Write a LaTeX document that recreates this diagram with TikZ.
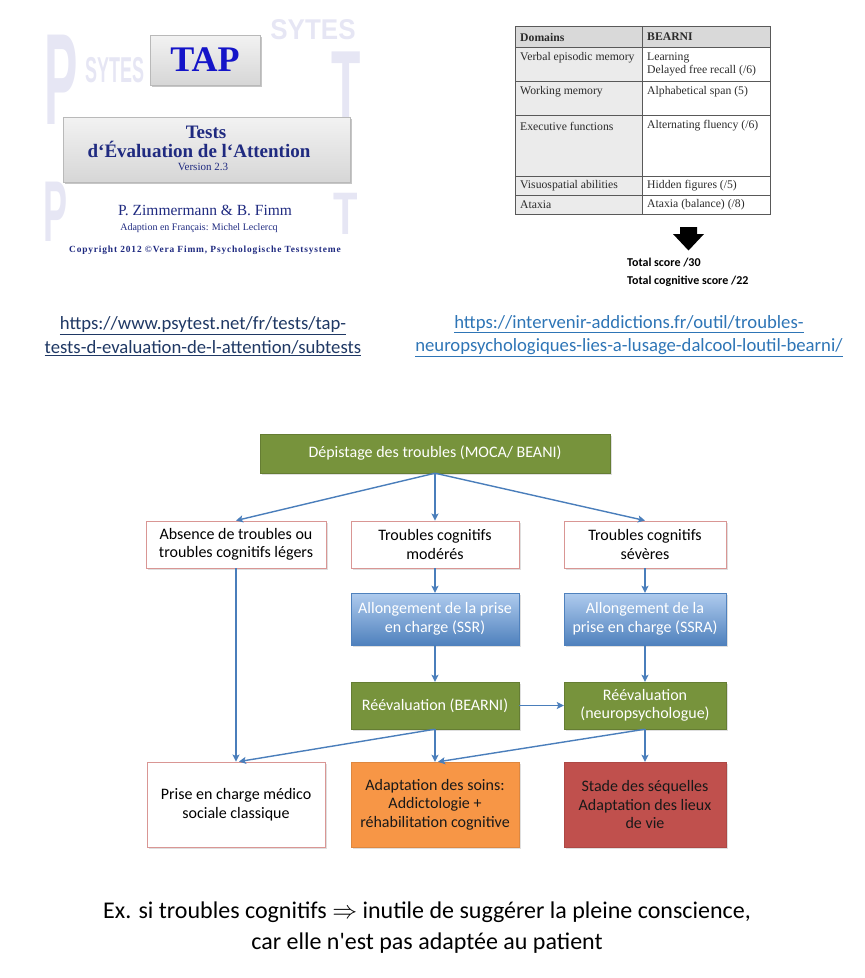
\documentclass[tikz,border=0pt]{standalone}
\usepackage{fontspec}
\setmainfont{Carlito}
\newfontfamily\serifA{Liberation Serif}
\newfontfamily\serifWide[LetterSpace=9]{Liberation Serif}
\newfontfamily\sansB{Liberation Sans}
\usetikzlibrary{arrows.meta,shadows}

\definecolor{flowgreen}{HTML}{77933C}
\definecolor{flowblue}{HTML}{4F81BD}
\definecolor{flowbluelight}{HTML}{AFCBEE}
\definecolor{arrowblue}{HTML}{4A7EBB}
\definecolor{pinkborder}{HTML}{D99694}
\definecolor{orangefill}{HTML}{F79646}
\definecolor{redfill}{HTML}{C0504D}
\definecolor{tapblue}{HTML}{1414C8}
\definecolor{tapnavy}{HTML}{1F2A80}
\definecolor{wmcol}{HTML}{E6E6F4}
\definecolor{urlnavy}{HTML}{1F3864}
\definecolor{urlblue}{HTML}{2E75B6}
\definecolor{tblhead}{HTML}{D9D9D9}
\definecolor{tblleft}{HTML}{EBEBEB}
\definecolor{tbltext}{HTML}{2B2B2B}

\begin{document}
\begin{tikzpicture}[x=1pt,y=-1pt,
  flowfont/.style={font=\fontsize{16}{18.5}\selectfont},
  fbox/.style={rectangle, align=center, inner sep=2pt, flowfont,
    drop shadow={opacity=0.25,shadow xshift=1.5pt,shadow yshift=-1.5pt}},
  greenbox/.style={fbox, fill=flowgreen, draw=flowgreen!85!black, text=white},
  bluebox/.style={fbox, top color=flowbluelight, bottom color=flowblue, draw=flowblue, text=white},
  pinkbox/.style={fbox, fill=white, draw=pinkborder, line width=0.9pt, text=black},
  orangebox/.style={fbox, fill=orangefill, draw=orangefill!90!black, text=black!90},
  redbox/.style={fbox, fill=redfill, draw=redfill!90!black, text=black!90},
  flowarrow/.style={draw=arrowblue, line width=1.4pt, -{Stealth[length=7pt,width=7pt,inset=1.5pt]}},
  wm/.style={text=wmcol, font=\sansB\bfseries, inner sep=0pt},
  tbl/.style={anchor=west, inner sep=0pt, text=tbltext, font=\serifA\fontsize{11.7}{13}\selectfont},
  tblb/.style={tbl, font=\serifA\bfseries\fontsize{11.7}{13}\selectfont},
  tapline/.style={text=tapnavy, inner sep=0pt},
  graybox/.style={rectangle, top color=gray!10, bottom color=gray!32, draw=gray!55,
    drop shadow={opacity=0.45,shadow xshift=2pt,shadow yshift=-2pt}},
  urlnode/.style={align=center, inner sep=0pt, font=\fontsize{18.7}{23.5}\selectfont}
]
\useasboundingbox (0,0) rectangle (865,978);

% ---------------- TAP cover (watermark first) ----------------
\node[wm] (wmP1) at (61,80) {\scalebox{1}[2.6]{\fontsize{50}{50}\selectfont P}};
\node[wm] (wmS1) at (115,70) {\scalebox{1}[2.0]{\fontsize{18}{18}\selectfont SYTES}};
\node[wm] (wmS0) at (313,30) {\scalebox{1}[1.1]{\fontsize{26}{26}\selectfont SYTES}};
\node[wm] (wmT1) at (346,88) {\scalebox{1}[2.2]{\fontsize{48}{48}\selectfont T}};
\node[wm] (wmP2) at (56,212) {\scalebox{1}[2.4]{\fontsize{36}{36}\selectfont P}};
\node[wm] (wmT2) at (346,214) {\scalebox{1}[1.5]{\fontsize{40}{40}\selectfont T}};

\node[graybox, minimum width=110, minimum height=50, text=tapblue,
  font=\serifA\bfseries\fontsize{36}{36}\selectfont] (tap) at (205,60) {TAP};
\node[graybox, minimum width=287, minimum height=65] (tapbox2) at (206.5,149.5) {};
\node[tapline, font=\serifA\bfseries\fontsize{19}{19}\selectfont] (taptests) at (206,132) {Tests};
\node[tapline, font=\serifA\bfseries\fontsize{19}{19}\selectfont] (tapeval) at (199,149) {d‘Évaluation de l‘Attention};
\node[tapline, font=\serifA\fontsize{11}{11}\selectfont] (tapver) at (203,167) {Version 2.3};
\node[tapline, font=\serifA\fontsize{15.5}{15.5}\selectfont] (tapauth) at (205,210) {P. Zimmermann \& B. Fimm};
\node[tapline, font=\serifA\fontsize{10}{10}\selectfont] (tapadapt) at (199,228) {Adaption en Français: Michel Leclercq};
\node[tapline, font=\serifWide\bfseries\fontsize{9.4}{9.4}\selectfont] (tapcopy) at (205,250) {Copyright 2012 ©Vera Fimm, Psychologische Testsysteme};

% ---------------- BEARNI table ----------------
\fill[tblleft] (515,47) rectangle (642,214);
\fill[tblhead] (515,26) rectangle (770,47);
\draw[gray!70!black, line width=0.7pt] (515,26) rectangle (770,214);
\draw[gray!70!black, line width=0.7pt] (642,26) -- (642,214);
\foreach \yy in {47,81,115,176,195} {\draw[gray!70!black, line width=0.7pt] (515,\yy) -- (770,\yy);}
\node[tblb] (tdom) at (520,37) {Domains};
\node[tblb] (tbea) at (647,37) {BEARNI};
\node[tbl] (t1a) at (520,58) {Verbal episodic memory};
\node[tbl] (t1b) at (647,58) {Learning};
\node[tbl] (t1c) at (647,71) {Delayed free recall (/6)};
\node[tbl] (t2a) at (520,92) {Working memory};
\node[tbl] (t2b) at (647,92) {Alphabetical span (5)};
\node[tbl] (t3a) at (520,126) {Executive functions};
\node[tbl] (t3b) at (647,126) {Alternating fluency (/6)};
\node[tbl] (t4a) at (520,186) {Visuospatial abilities};
\node[tbl] (t4b) at (647,186) {Hidden figures (/5)};
\node[tbl] (t5a) at (520,205) {Ataxia};
\node[tbl] (t5b) at (647,205) {Ataxia (balance) (/8)};
\fill[black] (680,227) -- (697,227) -- (697,234) -- (704,234) -- (688.5,250.5) -- (673,234) -- (680,234) -- cycle;
\node[anchor=west, inner sep=0pt, font=\bfseries\fontsize{12}{12}\selectfont] (tscore) at (627,263) {Total score /30};
\node[anchor=west, inner sep=0pt, font=\bfseries\fontsize{12}{12}\selectfont] (tcog) at (627,281) {Total cognitive score /22};

% ---------------- URLs ----------------
\node[urlnode, text=urlnavy] (url1) at (203,336.5) {\underline{https://www.psytest.net/fr/tests/tap-}\\\underline{tests-d-evaluation-de-l-attention/subtests}};
\node[urlnode, text=urlblue] (url2) at (629,336) {\underline{https://intervenir-addictions.fr/outil/troubles-}\\\underline{neuropsychologiques-lies-a-lusage-dalcool-loutil-bearni/}};

% ---------------- Flowchart ----------------
\node[greenbox, minimum width=350, minimum height=39] (top) at (435,453.5) {Dépistage des troubles (MOCA/ BEANI)};
\node[pinkbox, minimum width=180, minimum height=47] (r2l) at (236,544.5) {Absence de troubles ou\\troubles cognitifs légers};
\node[pinkbox, minimum width=168, minimum height=47] (r2m) at (435,544.5) {Troubles cognitifs\\modérés};
\node[pinkbox, minimum width=162, minimum height=47] (r2r) at (645,544.5) {Troubles cognitifs\\sévères};
\node[bluebox, minimum width=168, minimum height=52] (blm) at (435,619) {Allongement de la prise\\en charge (SSR)};
\node[bluebox, minimum width=162, minimum height=52] (blr) at (645,619) {Allongement de la\\prise en charge (SSRA)};
\node[greenbox, minimum width=168, minimum height=47] (gm) at (435,705.5) {Réévaluation (BEARNI)};
\node[greenbox, minimum width=162, minimum height=47] (gr) at (645,705.5) {Réévaluation\\(neuropsychologue)};
\node[pinkbox, minimum width=178, minimum height=85] (bl) at (236,804.5) {Prise en charge médico\\sociale classique};
\node[orangebox, minimum width=168, minimum height=85] (bm) at (435,804.5) {Adaptation des soins:\\Addictologie +\\réhabilitation cognitive};
\node[redbox, minimum width=162, minimum height=85] (br) at (645,804.5) {Stade des séquelles\\Adaptation des lieux\\de vie};

\draw[flowarrow] (top.south) -- (r2l.north);
\draw[flowarrow] (top.south) -- (r2m.north);
\draw[flowarrow] (top.south) -- (r2r.north);
\draw[flowarrow] (r2m.south) -- (blm.north);
\draw[flowarrow] (r2r.south) -- (blr.north);
\draw[flowarrow] (blm.south) -- (gm.north);
\draw[flowarrow] (blr.south) -- (gr.north);
\draw[flowarrow] (gm.east) -- (gr.west);
\draw[flowarrow] (r2l.south) -- (bl.north);
\draw[flowarrow] (gm.south) -- ([xshift=3pt]bl.north);
\draw[flowarrow] (gm.south) -- (bm.north);
\draw[flowarrow] (gr.south) -- ([xshift=3pt]bm.north);
\draw[flowarrow] (gr.south) -- (br.north);

% ---------------- Caption ----------------
\node[align=center, inner sep=0pt, font=\fontsize{24}{31}\selectfont] (caption) at (427,927.5)
  {Ex. si troubles cognitifs $\Rightarrow$ inutile de suggérer la pleine conscience,\\car elle n\textquotesingle est pas adaptée au patient};
\end{tikzpicture}
\end{document}
